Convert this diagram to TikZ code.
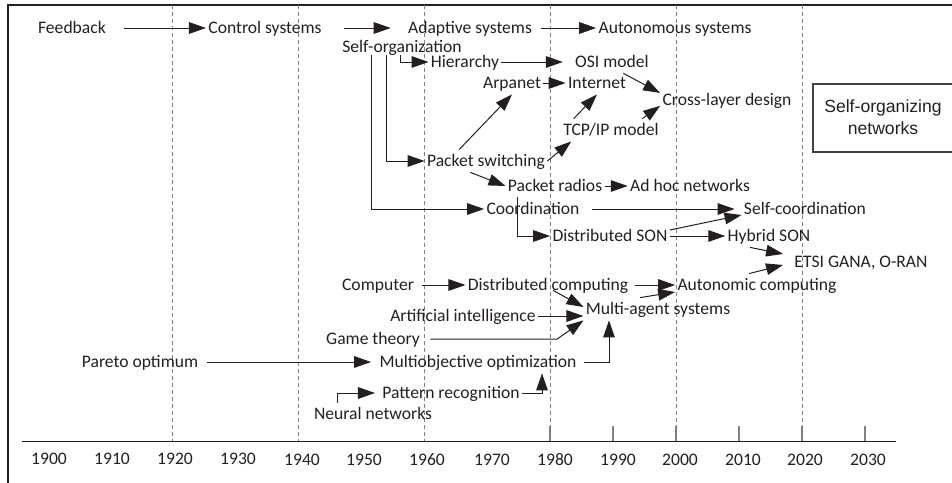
\documentclass[tikz,border=0pt]{standalone}
\usepackage{fontspec}
\setmainfont{Carlito}
\newfontfamily\arialfont{Liberation Sans}
\usetikzlibrary{arrows.meta}
\definecolor{ink}{HTML}{231F20}

\begin{document}
\begin{tikzpicture}[x=0.5pt,y=-0.5pt,
  lbl/.style={inner sep=1pt,text height=7pt,text depth=2pt,text=ink,
    font=\fontsize{8.8}{10}\selectfont},
  arr/.style={draw=ink,line width=0.5pt,-{Triangle[length=8.5pt,width=5.8pt]}},
  grid/.style={draw=black!50,line width=0.4pt,dash pattern=on 2pt off 1.5pt},
  tick/.style={draw=black!50,line width=0.8pt}]

  \useasboundingbox (0,0) rectangle (952,482);

  % frame and time axis
  \draw[ink,line width=1.2pt] (8,1000) -- (8,5) -- (1000,5);
  \draw[grid] (172,5) -- (172,441);
  \draw[grid] (298,5) -- (298,441);
  \draw[grid] (424,5) -- (424,441);
  \draw[grid] (550,5) -- (550,441);
  \draw[grid] (676,5) -- (676,441);
  \draw[grid] (802,5) -- (802,441);
  \draw[ink,line width=0.5pt] (22,441) -- (896,441);
  \draw[tick] (550,426) -- (550,441);
  \draw[tick] (613,426) -- (613,441);
  \draw[tick] (676,426) -- (676,441);
  \draw[tick] (739,426) -- (739,441);
  \draw[tick] (802,426) -- (802,441);
  \draw[tick] (865,426) -- (865,441);
  \node[lbl] (y1900) at (49,459) {1900};
  \node[lbl] (y1910) at (112,459) {1910};
  \node[lbl] (y1920) at (175,459) {1920};
  \node[lbl] (y1930) at (238,459) {1930};
  \node[lbl] (y1940) at (302,460) {1940};
  \node[lbl] (y1950) at (364,460) {1950};
  \node[lbl] (y1960) at (427,460) {1960};
  \node[lbl] (y1970) at (492,460) {1970};
  \node[lbl] (y1980) at (555,460) {1980};
  \node[lbl] (y1990) at (618,460) {1990};
  \node[lbl] (y2000) at (680,460) {2000};
  \node[lbl] (y2010) at (743,460) {2010};
  \node[lbl] (y2020) at (805,460) {2020};
  \node[lbl] (y2030) at (868,460) {2030};

  % control line
  \node[lbl] (fb) at (72,28) {Feedback};
  \node[lbl] (ctrl) at (265,28) {Control systems};
  \node[lbl] (adapt) at (470,28) {Adaptive systems};
  \node[lbl] (autosys) at (675,28) {Autonomous systems};
  \draw[arr,shorten <=8pt] (fb) -- (ctrl);
  \draw[arr,shorten <=10pt,shorten >=7.5pt] (ctrl) -- (adapt);
  \draw[arr,shorten <=3.5pt] (adapt) -- (autosys);

  % networking line
  \node[lbl] (selforg) at (402,47) {Self-organization};
  \node[lbl] (hier) at (465,62) {Hierarchy};
  \node[lbl] (osi) at (612,62) {OSI model};
  \node[lbl] (arpa) at (512,83) {Arpanet};
  \node[lbl] (inet) at (597,83) {Internet};
  \node[lbl] (cross) at (727,100) {Cross-layer design};
  \node[lbl] (tcpip) at (611,130) {TCP/IP model};
  \node[lbl] (pksw) at (486,161) {Packet switching};
  \node[lbl] (radios) at (555,186) {Packet radios};
  \node[lbl] (adhoc) at (690,186) {Ad hoc networks};
  \node[lbl] (coord) at (533,209) {Coordination};
  \node[lbl] (selfco) at (805,209) {Self-coordination};
  \node[lbl] (dson) at (610,236) {Distributed SON};
  \node[lbl] (hybrid) at (769,236) {Hybrid SON};
  \node[lbl] (etsi) at (861,262) {ETSI GANA, O-RAN};

  \draw[arr] ([xshift=-15.5pt,yshift=1.5pt]selforg.south) |- (coord);
  \draw[arr] ([xshift=-8pt,yshift=1.5pt]selforg.south) |- (pksw);
  \draw[arr] ([xshift=-1pt,yshift=1.5pt]selforg.south) |- (hier);
  \draw[arr,shorten >=5pt] (hier) -- (osi);
  \draw[arr] (arpa) -- (inet);
  \draw[arr] (pksw.157) -- (arpa.south);
  \draw[arr] (pksw.east) -- (tcpip.196);
  \draw[arr] (tcpip.163) -- (inet.south);
  \draw[arr] (osi.-45) -- (cross.174);
  \draw[arr] (tcpip.20) -- (cross.185);
  \draw[arr] (pksw.216) -- (radios.west);
  \draw[arr] (radios) -- (adhoc);
  \draw[arr] (radios.197) |- (dson);
  \draw[arr,shorten <=5pt,shorten >=3.5pt] (coord) -- (selfco);
  \draw[arr] ([yshift=3pt]dson.east) -- ([yshift=-3pt]selfco.west);
  \draw[arr] (dson) -- (hybrid);
  \draw[arr] (hybrid.211) -- ([xshift=-4.5pt,yshift=4pt]etsi.west);

  % computing line
  \node[lbl] (computer) at (378,285) {Computer};
  \node[lbl] (dcomp) at (548,285) {Distributed computing};
  \node[lbl] (autocomp) at (757,285) {Autonomic computing};
  \node[lbl] (mas) at (658,309) {Multi-agent systems};
  \node[lbl] (ai) at (463,316) {Artificial intelligence};
  \node[lbl] (game) at (373,339) {Game theory};
  \node[lbl] (pareto) at (140,362) {Pareto optimum};
  \node[lbl] (multi) at (478,362) {Multiobjective optimization};
  \node[lbl] (pattern) at (451,393) {Pattern recognition};
  \node[lbl] (neural) at (373,414) {Neural networks};

  \draw[arr,shorten <=3pt] (computer) -- (dcomp);
  \draw[arr,shorten <=2pt] (dcomp) -- (autocomp);
  \draw[arr] ([xshift=2.5pt,yshift=3pt]dcomp.south) -- ([yshift=1pt]mas.west);
  \draw[arr] ([xshift=-9pt]mas.north) -- ([yshift=-3.5pt]autocomp.west);
  \draw[arr] ([xshift=-4pt]autocomp.north) -- ([xshift=-4.5pt,yshift=-1.5pt]etsi.west);
  \draw[arr] (ai.east) -- (ai.east -| mas.west);
  \draw[arr,shorten <=4pt] (game.east) -- ++(135,0) -- (mas.south west);
  \draw[arr,shorten <=3pt,shorten >=3pt] (pareto) -- (multi);
  \draw[arr,shorten <=2.5pt] (multi.east) -| ([xshift=-24.5pt]mas.south);
  \draw[arr,shorten >=2.5pt] ([xshift=-18pt]neural.north) |- (pattern);
  \draw[arr] (pattern.east) -| ([xshift=32pt]multi.south);

  % legend box
  \draw[ink!85,line width=0.7pt] (813,84) rectangle (1000,152);
  \node[align=center,inner sep=0pt,text=ink,
    font=\arialfont\fontsize{8.8}{11}\selectfont] (sonbox) at (883,117)
    {Self-organizing\\networks};
\end{tikzpicture}
\end{document}
